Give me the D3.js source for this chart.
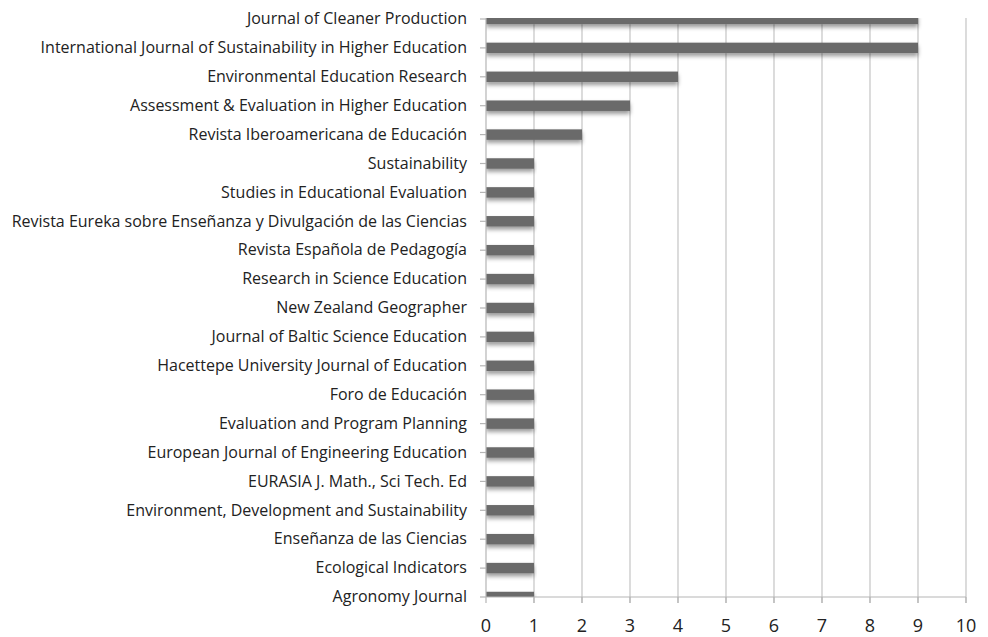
<!DOCTYPE html>
<html>
<head>
<meta charset="utf-8">
<script src="https://cdn.jsdelivr.net/npm/d3@7/dist/d3.min.js"></script>
<style>
  body { margin: 0; background: #fff; }
  svg { display: block; font-family: "Open Sans", "Noto Sans", sans-serif; }
</style>
</head>
<body>
<svg id="chart" width="988" height="637"></svg>
<script>
// journals, top to bottom as in the picture
const journals = [
  "Journal of Cleaner Production",
  "International Journal of Sustainability in Higher Education",
  "Environmental Education Research",
  "Assessment & Evaluation in Higher Education",
  "Revista Iberoamericana de Educación",
  "Sustainability",
  "Studies in Educational Evaluation",
  "Revista Eureka sobre Enseñanza y Divulgación de las Ciencias",
  "Revista Española de Pedagogía",
  "Research in Science Education",
  "New Zealand Geographer",
  "Journal of Baltic Science Education",
  "Hacettepe University Journal of Education",
  "Foro de Educación",
  "Evaluation and Program Planning",
  "European Journal of Engineering Education ",
  "EURASIA J. Math., Sci Tech. Ed",
  "Environment, Development and Sustainability",
  "Enseñanza de las Ciencias",
  "Ecological Indicators",
  "Agronomy Journal"
];
const counts = [9, 9, 4, 3, 2, 1, 1, 1, 1, 1, 1, 1, 1, 1, 1, 1, 1, 1, 1, 1, 1];
const xTicks = [0, 1, 2, 3, 4, 5, 6, 7, 8, 9, 10];

const plotLeft = 486, plotRight = 966, plotTop = 18, plotBottom = 597;

const svg = d3.select('#chart');

// x scale: 0..10
const x = d3.scaleLinear().domain([0, 10]).range([plotLeft, plotRight]);

// category positions: first and last sit on the plot edges (excel style)
const y = d3.scalePoint().domain(journals).range([plotTop + 1, plotBottom]);
const barH = 10.5;

const defs = svg.append('defs');
defs.append('clipPath').attr('id', 'plot-clip')
  .append('rect')
  .attr('x', plotLeft).attr('y', plotTop)
  .attr('width', plotRight - plotLeft + 2).attr('height', plotBottom - plotTop);

const shadow = defs.append('filter').attr('id', 'bar-shadow')
  .attr('x', '-5%').attr('y', '-50%').attr('width', '110%').attr('height', '250%');
shadow.append('feDropShadow')
  .attr('dx', 0).attr('dy', 3)
  .attr('stdDeviation', 2)
  .attr('flood-color', '#000')
  .attr('flood-opacity', 0.4);

// vertical gridlines
svg.append('g')
  .selectAll('line')
  .data(xTicks.slice(1))
  .enter()
  .append('line')
  .attr('x1', d => x(d)).attr('x2', d => x(d))
  .attr('y1', plotTop).attr('y2', plotBottom + 6)
  .attr('stroke', '#c4c4c4')
  .attr('stroke-width', 1.2);

// bars
svg.append('g')
  .attr('clip-path', 'url(#plot-clip)')
  .selectAll('rect')
  .data(journals)
  .enter()
  .append('rect')
  .attr('x', x(0))
  .attr('y', d => y(d) - barH / 2)
  .attr('width', (d, i) => x(counts[i]) - x(0))
  .attr('height', barH)
  .attr('fill', '#6b6b6b')
  .attr('filter', 'url(#bar-shadow)');

// bottom axis line + ticks
svg.append('line')
  .attr('x1', plotLeft).attr('x2', plotRight)
  .attr('y1', plotBottom).attr('y2', plotBottom)
  .attr('stroke', '#b5b5b5').attr('stroke-width', 1.2);
svg.append('g')
  .selectAll('line')
  .data(xTicks)
  .enter()
  .append('line')
  .attr('x1', d => x(d)).attr('x2', d => x(d))
  .attr('y1', plotBottom).attr('y2', plotBottom + 6)
  .attr('stroke', '#b5b5b5').attr('stroke-width', 1.2);

// left axis line + ticks
svg.append('line')
  .attr('x1', plotLeft).attr('x2', plotLeft)
  .attr('y1', plotTop).attr('y2', plotBottom)
  .attr('stroke', '#b5b5b5').attr('stroke-width', 1.2);
svg.append('g')
  .selectAll('line')
  .data(journals)
  .enter()
  .append('line')
  .attr('x1', plotLeft - 6).attr('x2', plotLeft)
  .attr('y1', d => y(d)).attr('y2', d => y(d))
  .attr('stroke', '#b5b5b5').attr('stroke-width', 1.2);

// x tick labels
svg.append('g')
  .selectAll('text')
  .data(xTicks)
  .enter()
  .append('text')
  .attr('x', d => x(d))
  .attr('y', 627)
  .attr('text-anchor', 'middle')
  .attr('dominant-baseline', 'middle')
  .attr('font-size', 18)
  .attr('fill', '#222')
  .text(d => d);

// journal labels
svg.append('g')
  .selectAll('text')
  .data(journals)
  .enter()
  .append('text')
  .attr('x', 467)
  .attr('y', d => y(d) + 1)
  .attr('text-anchor', 'end')
  .attr('dominant-baseline', 'middle')
  .attr('font-size', 16)
  .attr('fill', '#222')
  .text(d => d);
</script>
</body>
</html>
